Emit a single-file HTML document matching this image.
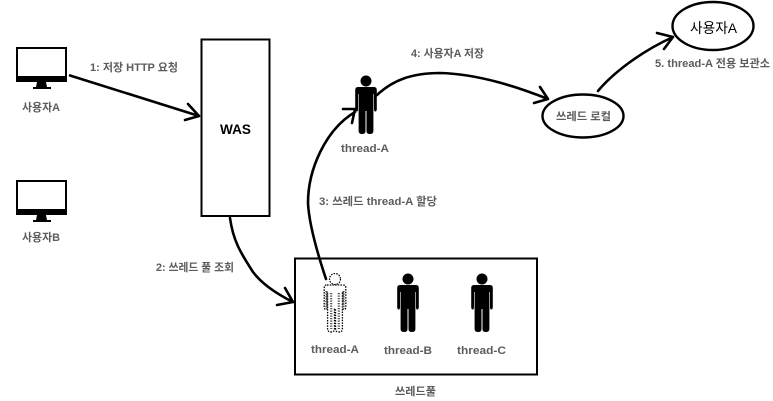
<!DOCTYPE html>
<html><head><meta charset="utf-8"><style>
html,body{margin:0;padding:0;background:#fff;width:773px;height:401px;overflow:hidden}
svg{display:block;filter:blur(0.35px)}
text{font-family:"Liberation Sans","Noto Sans CJK KR",sans-serif;font-weight:bold;fill:#5c5c5c;font-size:11px;dominant-baseline:central}
.a{fill:none;stroke:#000;stroke-width:2.6;stroke-linecap:round;stroke-linejoin:round}
</style></head><body>
<svg width="773" height="401" viewBox="0 0 773 401" xmlns="http://www.w3.org/2000/svg">
<defs>
<g id="mon">
<rect x="0" y="0" width="51" height="35" fill="#000"/>
<rect x="2" y="2" width="47" height="27" fill="#fff"/>
<path d="M21 35h9l1 5h4v2H17v-2h3z" fill="#000"/>
</g>
<path id="p" d="M-8 12H8Q10.800 12 10.800 15V34Q10.800 36.500 9.200 36.500Q8 36.500 8 34V19H7.400V56Q7.400 59 3.800 59Q.5 59 .5 56V36H-.5V56Q-.5 59-3.800 59Q-7.400 59-7.400 56V19H-8V34Q-8 36.500-9.200 36.500Q-10.800 36.500-10.800 34V15Q-10.800 12-8 12Z"/>
</defs>

<use href="#mon" x="16" y="47"/>
<use href="#mon" x="16" y="180"/>
<text x="22" y="108" textLength="38" lengthAdjust="spacingAndGlyphs">사용자A</text>
<text x="22" y="238" textLength="38" lengthAdjust="spacingAndGlyphs">사용자B</text>

<rect x="201.500" y="39.500" width="68" height="176.500" fill="#fff" stroke="#000" stroke-width="2"/>
<text x="220" y="129" textLength="31" lengthAdjust="spacingAndGlyphs" style="fill:#000;font-size:14px">WAS</text>

<rect x="295" y="258.500" width="242" height="116" fill="#fff" stroke="#000" stroke-width="2"/>

<!-- dotted person -->
<g transform="translate(335,273)">
<circle cx="0" cy="6" r="5.500" fill="#fff" stroke="#000" stroke-width="1.200" stroke-dasharray="1.500 1.200"/>
<use href="#p" fill="#fff" stroke="#000" stroke-width="1.300" stroke-dasharray="1.500 1.200"/>
<path d="M-8.500 18V36M8.500 18V36M-3.800 20V56M3.800 20V56" stroke="#555" stroke-width="2.200" stroke-dasharray="1.200 1.300" fill="none"/>
</g>
<!-- solid persons -->
<g transform="translate(408,273)"><circle cx="0" cy="6" r="5.500"/><use href="#p"/></g>
<g transform="translate(482,273)"><circle cx="0" cy="6" r="5.500"/><use href="#p"/></g>
<g transform="translate(366,75)"><circle cx="0" cy="6" r="5.500"/><use href="#p"/></g>

<text x="311" y="350" textLength="48" lengthAdjust="spacingAndGlyphs">thread-A</text>
<text x="384" y="351" textLength="48" lengthAdjust="spacingAndGlyphs">thread-B</text>
<text x="457" y="351" textLength="49" lengthAdjust="spacingAndGlyphs">thread-C</text>
<text x="395" y="392" textLength="41" lengthAdjust="spacingAndGlyphs">쓰레드풀</text>
<text x="341" y="149" textLength="48" lengthAdjust="spacingAndGlyphs">thread-A</text>

<ellipse cx="583" cy="116" rx="40.500" ry="21.500" fill="#fff" stroke="#000" stroke-width="2.400"/>
<text x="556" y="117" textLength="55" lengthAdjust="spacingAndGlyphs">쓰레드 로컬</text>
<ellipse cx="713" cy="26" rx="40.500" ry="24" fill="#fff" stroke="#000" stroke-width="2.400"/>
<text x="690" y="28" textLength="47" lengthAdjust="spacingAndGlyphs" style="fill:#000;font-size:14px;font-weight:normal">사용자A</text>

<text x="90" y="68" textLength="88" lengthAdjust="spacingAndGlyphs">1: 저장 HTTP 요청</text>
<text x="156" y="268" textLength="78" lengthAdjust="spacingAndGlyphs">2: 쓰레드 풀 조회</text>
<text x="319" y="202" textLength="118" lengthAdjust="spacingAndGlyphs">3: 쓰레드 thread-A 할당</text>
<text x="411" y="54" textLength="73" lengthAdjust="spacingAndGlyphs">4: 사용자A 저장</text>
<text x="655" y="64" textLength="115" lengthAdjust="spacingAndGlyphs">5. thread-A 전용 보관소</text>

<!-- arrows -->
<path class="a" d="M70 75.500L199 116M188 104L199 116L185 120"/>
<path class="a" d="M230 218C233 240 240 252 253 272C262 284 277 294 293 302M285 288L293 302L277 305"/>
<path class="a" d="M326 279C319 258 309 225 308 203C308 170 325 130 355 112M343 109L355 109L352 123"/>
<path class="a" d="M377 95C393 80 412 73 440 73C480 74 520 88 548 99M540 87L548 99L534 103"/>
<path class="a" d="M598 91C612 74 640 52 673 37M657 33L673 37L664 49"/>
</svg>
</body></html>
